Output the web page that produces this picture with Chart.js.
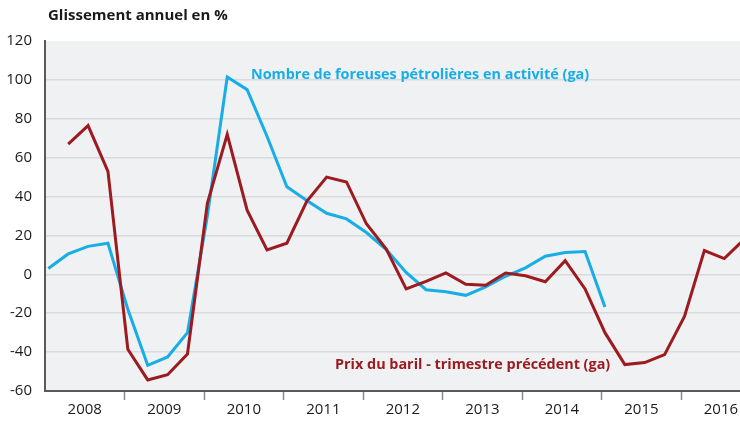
<!DOCTYPE html>
<html>
<head>
<meta charset="utf-8">
<script src="https://cdn.jsdelivr.net/npm/chart.js@4/dist/chart.umd.min.js"></script>
<style>
html,body{margin:0;padding:0;background:#fff;}
#wrap{position:relative;width:740px;height:421px;}
</style>
</head>
<body>
<div id="wrap"><canvas id="c" width="740" height="421"></canvas></div>
<script>
// ---- data ----
const years = [2008, 2009, 2010, 2011, 2012, 2013, 2014, 2015, 2016];
const quarters = ['T1', 'T2', 'T3', 'T4'];
const yTicks = [-60, -40, -20, 0, 20, 40, 60, 80, 100, 120];
const title = 'Glissement annuel en %';
const labelForeuses = 'Nombre de foreuses pétrolières en activité (ga)';
const labelBaril = 'Prix du baril - trimestre précédent (ga)';

// Prix du baril, trimestre précédent (glissement annuel, %), 2008T1 -> 2016T4
const baril = [null, 67, 76.5, 53, -38.5, -54.3, -51.6, -41, 36.5, 72, 33, 12.5, 16, 37.5, 50, 47.5,
  26, 13, -7.5, -3.6, 0.7, -5.1, -5.6, 0.7, -0.7, -3.8, 7, -7.5, -30, -46.4, -45.4, -41.3, -21.6, 12.2, 8.1, 18];
// Nombre de foreuses pétrolières en activité (glissement annuel, %), 2008T1 -> 2015T1
const foreuses = [3, 10.5, 14.4, 16, -18, -46.8, -42.5, -30, 30, 101.5, 95, 71, 45, 38, 31.4, 28.5,
  21.5, 12.7, 1, -7.9, -9, -10.8, -6.5, -1, 3.3, 9.3, 11.2, 11.7, -16.8];

// quarter position on a time axis in years (mid of first month of the quarter)
const qPos = [];
years.forEach(y => quarters.forEach((q, k) => qPos.push(y + (3 * k + 0.5) / 12)));
const toPts = arr => arr.map((v, i) => ({x: qPos[i], y: v}));

const BLUE = '#17ade6';
const RED = '#9b1b20';
const FONT = "'Open Sans', 'Noto Sans', sans-serif";

const bgPlugin = {
  id: 'bg',
  beforeDraw(chart) {
    const {ctx, chartArea: a} = chart;
    ctx.save();
    ctx.fillStyle = '#f0f1f3';
    ctx.fillRect(a.left, a.top, a.right - a.left, a.bottom - a.top);
    ctx.restore();
  },
  afterDraw(chart) {
    const {ctx} = chart;
    const ys = chart.scales.y;
    ctx.save();
    ctx.textBaseline = 'middle';
    ctx.textAlign = 'left';
    ctx.font = "bold 15px " + FONT;
    ctx.fillStyle = '#1a1a1a';
    ctx.fillText(title, 48, 16);
    ctx.font = "bold 14.4px " + FONT;
    ctx.fillStyle = BLUE;
    ctx.fillText(labelForeuses, 251, ys.getPixelForValue(102.5));
    ctx.fillStyle = RED;
    ctx.fillText(labelBaril, 335, ys.getPixelForValue(-46.5));
    ctx.restore();
  }
};

new Chart(document.getElementById('c'), {
  type: 'line',
  data: {
    datasets: [
      {label: labelBaril, data: toPts(baril), borderColor: RED, borderWidth: 3, pointRadius: 0, tension: 0, spanGaps: false},
      {label: labelForeuses, data: toPts(foreuses), borderColor: BLUE, borderWidth: 3, pointRadius: 0, tension: 0}
    ]
  },
  options: {
    responsive: false,
    animation: false,
    layout: {padding: {top: 41, right: 0, left: 0, bottom: 0}},
    plugins: {legend: {display: false}, tooltip: {enabled: false}},
    scales: {
      x: {
        type: 'linear',
        min: 2008,
        max: 2016.74,
        afterBuildTicks(scale) {
          const t = [];
          years.forEach(y => { t.push({value: y}); t.push({value: y + 0.5}); });
          scale.ticks = t.filter(o => o.value >= scale.min && o.value <= scale.max);
        },
        afterFit(scale) { scale.height = 30; },
        border: {display: true, color: '#58595b', width: 2},
        grid: {
          drawOnChartArea: false,
          drawTicks: true,
          tickLength: 9,
          tickWidth: 1.5,
          tickColor: ctx => (ctx.tick && Number.isInteger(ctx.tick.value) && ctx.tick.value > 2008) ? '#8a8b8d' : 'rgba(0,0,0,0)'
        },
        ticks: {
          autoSkip: false,
          maxRotation: 0,
          padding: 1,
          color: '#1a1a1a',
          font: {family: FONT, size: 15},
          callback: v => Number.isInteger(v) ? '' : String(Math.floor(v))
        }
      },
      y: {
        min: -60,
        max: 120,
        afterBuildTicks(scale) { scale.ticks = yTicks.map(v => ({value: v})); },
        afterFit(scale) { scale.width = 45; },
        border: {display: true, color: '#58595b', width: 2},
        grid: {
          drawTicks: false,
          lineWidth: 1.5,
          color: ctx => (ctx.tick && (ctx.tick.value === 120 || ctx.tick.value === -60)) ? 'rgba(0,0,0,0)' : '#d9dadd'
        },
        ticks: {
          padding: 13,
          color: '#1a1a1a',
          font: {family: FONT, size: 15}
        }
      }
    }
  },
  plugins: [bgPlugin]
});
</script>
</body>
</html>
